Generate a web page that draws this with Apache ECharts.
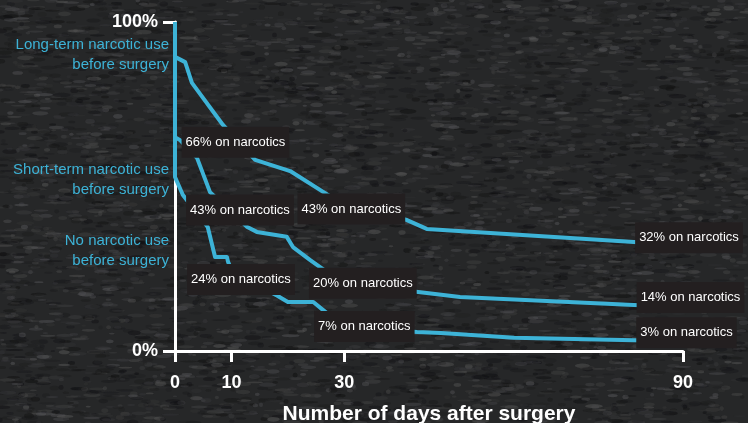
<!DOCTYPE html>
<html>
<head>
<meta charset="utf-8">
<script src="https://cdn.jsdelivr.net/npm/echarts@6/dist/echarts.min.js"></script>
<style>
html,body{margin:0;padding:0;background:#2a2b2c;}
#bg{position:absolute;left:0;top:0;}
#chart{position:absolute;left:0;top:0;width:748px;height:423px;}
</style>
</head>
<body>
<canvas id="bg" width="748" height="423"></canvas>
<div id="chart"></div>
<script>
// ---- data ----
const xTicks = [0, 10, 30, 90];
const yTicks = [0, 100];
const longTerm = [[0,100],[0,89.4],[1.8,87.8],[3.0,81.5],[8.5,68.7],[14.2,58.1],[20.4,54.7],[26.6,48.0],[30,44.4],[41.1,39.8],[44.6,37.1],[81.3,33.1],[90,32.2]];
const shortTerm = [[0,100],[0,65.0],[0.9,64.1],[3.9,58.7],[6.2,48.3],[12.8,37.7],[14.5,36.2],[19.8,34.7],[20.9,31.6],[23.9,27.7],[25.7,25.5],[30,20.4],[43.1,17.9],[44.6,17.6],[50.5,16.4],[81.3,14.0],[90,13.5]];
const noNarcotic = [[0,100],[0,52.9],[1.4,47.4],[5.8,37.7],[7.1,28.6],[9.2,28.6],[9.4,27.1],[10.1,24.3],[18.2,16.7],[20.0,14.9],[24.5,14.9],[26.2,12.5],[30,7.3],[42.9,5.8],[47.1,5.5],[60.1,4.0],[81.3,3.3],[90,3.0]];
const calloutDays = [10, 10, 30, 10, 30, 30, 90, 90, 90];
const calloutValues = [66, 43, 43, 24, 20, 7, 32, 14, 3];
const groupNames = ['Long-term narcotic use\nbefore surgery', 'Short-term narcotic use\nbefore surgery', 'No narcotic use\nbefore surgery'];
const xTitle = 'Number of days after surgery';

// ---- background texture (decoration only, seeded) ----
(function(){
  const c = document.getElementById('bg').getContext('2d');
  c.fillStyle = '#262728'; c.fillRect(0,0,748,423);
  let s = 98765;
  function rnd(){ s = (s * 1103515245 + 12345) % 2147483648; return s / 2147483648; }
  for (let i = 0; i < 9000; i++) {
    const x = rnd()*748, y = rnd()*423, w = 2 + rnd()*7, h = 0.8 + rnd()*1.6;
    const l = rnd() < 0.45 ? 14 + rnd()*14 : 50 + rnd()*40;
    c.fillStyle = 'rgba(' + l + ',' + l + ',' + (l+2) + ',0.28)';
    c.beginPath(); c.ellipse(x, y, w, h, 0, 0, Math.PI*2); c.fill();
  }
})();

const blue = '#3db3d7';
const boxOffsets = [[4,8.5],[8.5,0.5],[7,-0.5],[9.5,7.5],[18.5,-2],[20,-1.5],[6,-8],[7.5,-7.5],[3.5,-8.5]];

const chart = echarts.init(document.getElementById('chart'), null, {renderer:'canvas'});
const lineSeries = (name, data) => ({
  name, type:'line', data, symbol:'none', silent:true,
  lineStyle:{color:blue, width:4, join:'round'}, z:3
});
const option = {
  backgroundColor:'transparent',
  animation:false,
  grid:{left:175, right:65, top:22, bottom:72, containLabel:false, outerBoundsMode:'none'},
  xAxis:{
    type:'value', min:0, max:90,
    axisLine:{show:true, lineStyle:{color:'#ffffff', width:3}},
    axisTick:{show:true, customValues:xTicks, length:11, lineStyle:{color:'#ffffff', width:3}},
    axisLabel:{customValues:xTicks, color:'#ffffff', fontFamily:'Liberation Sans', fontWeight:'bold', fontSize:18, margin:23},
    splitLine:{show:false},
    name:xTitle, nameLocation:'middle', nameGap:53,
    nameTextStyle:{color:'#ffffff', fontFamily:'Liberation Sans', fontWeight:'bold', fontSize:21}
  },
  yAxis:{
    type:'value', min:0, max:100, interval:100,
    axisLine:{show:true, lineStyle:{color:'#ffffff', width:3}},
    axisTick:{show:true, customValues:yTicks, length:12, lineStyle:{color:'#ffffff', width:3}},
    axisLabel:{customValues:yTicks, formatter:'{value}%', color:'#ffffff', fontFamily:'Liberation Sans', fontWeight:'bold', fontSize:18, margin:17,
      verticalAlign:'middle', verticalAlignMinLabel:'middle', verticalAlignMaxLabel:'middle'},
    splitLine:{show:false}
  },
  series:[
    lineSeries('Long-term', longTerm),
    lineSeries('Short-term', shortTerm),
    lineSeries('No narcotic', noNarcotic),
    {
      type:'scatter', z:10, silent:true, symbolSize:1, clip:false,
      itemStyle:{color:'#231f20', opacity:1},
      data: calloutDays.map((d,i)=>({
        value:[d, calloutValues[i]],
        label:{position:[boxOffsets[i][0] + 0.5, boxOffsets[i][1] + 0.5], align:'center', verticalAlign:'middle'}
      })),
      label:{
        show:true,
        formatter:p=>p.value[1] + '% on narcotics',
        color:'#ffffff', fontFamily:'"Liberation Sans", Arial, sans-serif', fontSize:13, lineHeight:15,
        backgroundColor:'#231f20', padding:[8,4,8,4]
      }
    }
  ],
  graphic: groupNames.map((t, i) => ({
    type:'text', x:169, y:[55,180,250.5][i], silent:true,
    style:{text:t, align:'right', verticalAlign:'middle', fill:blue,
      font:'15px "Liberation Sans", Arial, sans-serif', lineHeight:20}
  }))
};
chart.setOption(option);
</script>
</body>
</html>
